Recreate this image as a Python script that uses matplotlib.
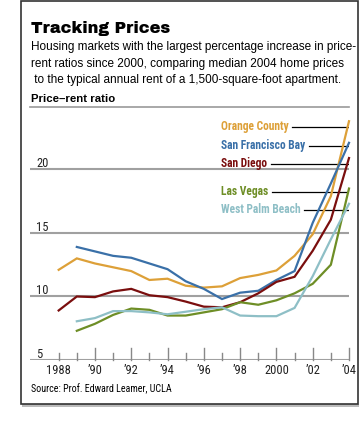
import numpy as np
import matplotlib
matplotlib.use("Agg")
import matplotlib.pyplot as plt
from matplotlib.patches import Rectangle

years = np.arange(1988, 2005)

# price-rent ratios (None = no data)
orange_county = [12.1, 13.0, 12.6, 12.3, 12.0, 11.3, 11.4, 10.85, 10.7, 10.8,
                 11.45, 11.7, 12.05, 13.2, 14.9, 17.9, 23.8]
sf_bay = [None, 13.9, 13.55, 13.2, 13.05, 12.6, 12.15, 11.2, 10.6, 9.8,
          10.3, 10.45, 11.3, 12.0, 15.8, 18.9, 22.1]
san_diego = [8.9, 10.0, 9.95, 10.4, 10.6, 10.1, 9.95, 9.6, 9.2, 9.15,
             9.55, 10.25, 11.15, 11.55, 13.6, 16.05, 20.9]
las_vegas = [None, 7.3, 7.85, 8.55, 9.05, 8.95, 8.5, 8.5, 8.75, 9.0,
             9.55, 9.35, 9.7, 10.25, 11.0, 12.5, 18.5]
west_palm = [None, 8.05, 8.3, 8.85, 8.85, 8.75, 8.6, 8.8, 9.0, 9.15,
             8.5, 8.45, 8.45, 9.1, 11.6, 14.5, 17.3]

names = ["Orange County", "San Francisco Bay", "San Diego", "Las Vegas", "West Palm Beach"]
series = [orange_county, sf_bay, san_diego, las_vegas, west_palm]
colors = ["#DDA038", "#3A70A8", "#7A0E0E", "#6E8E26", "#8EBFC6"]
label_y = [23.45, 22.0, 20.55, 18.35, 16.95]

ytick_vals = [5, 10, 15, 20]
xtick_labels = ["1988", "\u201990", "\u201992", "\u201994", "\u201996", "\u201998", "2000", "\u201902", "\u201904"]

COND = "Roboto Condensed"
W, H = 360, 435
fig = plt.figure(figsize=(W / 100, H / 100), dpi=100)

# outer frame with a light shadow
fig.patches.append(Rectangle((22 / W, 1 - 408 / H), 337 / W, 3 / H, transform=fig.transFigure,
                             facecolor="#bbbbbb", edgecolor="none", zorder=-2))
fig.patches.append(Rectangle((21 / W, 1 - 405 / H), 337 / W, 403 / H, transform=fig.transFigure,
                             facecolor="white", edgecolor="#333333", linewidth=1.2, zorder=-1))

fig.text(31 / W, 1 - 28 / H, "Tracking Prices", fontsize=11.6,
         family="Archivo Black", va="center", ha="left")
sub = ["Housing markets with the largest percentage increase in price-",
       "rent ratios since 2000, comparing median 2004 home prices",
       " to the typical annual rent of a 1,500-square-foot apartment."]
for i, s in enumerate(sub):
    fig.text(31 / W, 1 - (47 + 16.5 * i) / H, s, fontsize=8.5, family="Liberation Sans",
             va="center", ha="left")
fig.text(31 / W, 1 - 99 / H, "Price\u2013rent ratio", fontsize=8.2, fontweight="bold",
         family="Liberation Sans", va="center", ha="left")
fig.text(31 / W, 1 - 389 / H, "Source: Prof. Edward Leamer, UCLA", fontsize=7.2,
         family=COND, va="center", ha="left")

ax = fig.add_axes([30 / W, 1 - 361 / H, 319 / W, 253 / H])
ax.set_xlim(1986.42, 2004.0)
ax.set_ylim(5, 24.92)
ax.axis("off")

# top rule and gridlines
ax.axhline(24.92, color="#999999", lw=1.2, clip_on=False)
for v in ytick_vals:
    ax.axhline(v, color="#a0a0a0", lw=1.5, zorder=1)
    ax.text(1986.75, v + 0.55, str(v), fontsize=9, family=COND,
            va="center", ha="left", color="#222222")

# x ticks on the baseline
for y in years:
    h = 0.95 if (y % 2 == 0 and y != 1988) else 0.55
    ax.plot([y, y], [5, 5 + h], color="#888888", lw=1.0, clip_on=False)
for y, lab in zip(years[::2], xtick_labels):
    ax.text(y, 4.28, lab, fontsize=9, family=COND, va="center",
            ha="center", color="#222222")

for vals, c in zip(series, colors):
    v = np.array([np.nan if x is None else x for x in vals], dtype=float)
    ax.plot(years, v, color=c, lw=1.6, clip_on=False, zorder=3, solid_joinstyle="miter")

renderer = fig.canvas.get_renderer()
for name, c, ly in zip(names, colors, label_y):
    t = ax.text(1996.93, ly, name, color=c, fontsize=8.3, fontweight="bold",
                family=COND, va="center", ha="left")
    bb = t.get_window_extent(renderer)
    x0 = ax.transData.inverted().transform((bb.x1 + 4, bb.y0))[0]
    ax.plot([x0, 2003.95], [ly - 0.12, ly - 0.12], color="black", lw=0.9, zorder=2)

fig.savefig("out.png", dpi=100)
